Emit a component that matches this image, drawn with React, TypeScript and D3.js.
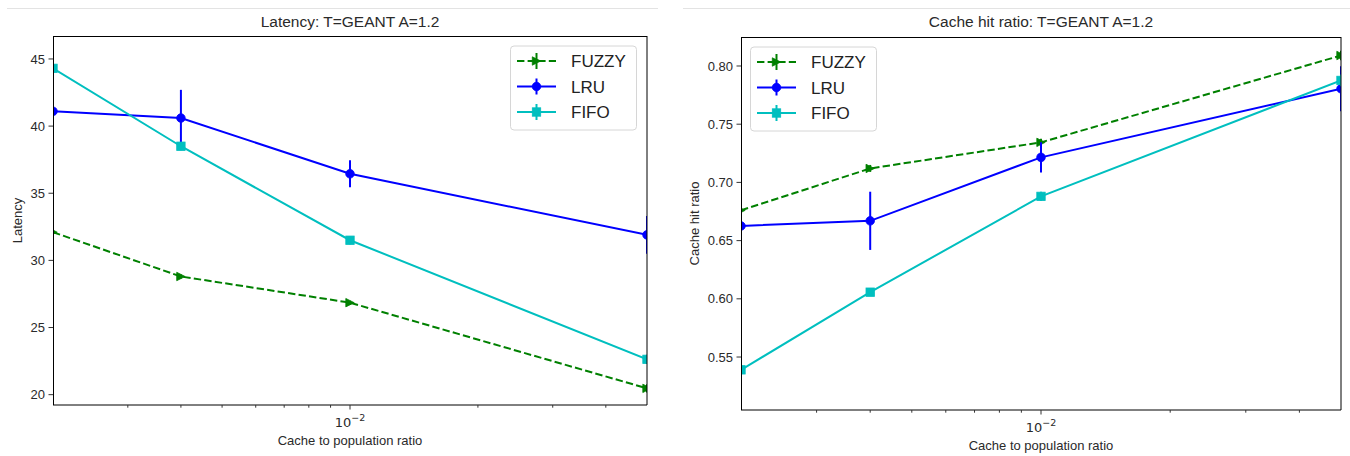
import React from 'react';
import * as d3 from 'd3';

// Cache sizes (fraction of content population) shared by both panels
const cacheRatios = [0.002, 0.004, 0.01, 0.05];
const xMinorTicks = [0.003, 0.004, 0.005, 0.006, 0.007, 0.008, 0.009, 0.02, 0.03, 0.04];
const xMajorTicks = [0.01];

const strategyNames = ['FUZZY', 'LRU', 'FIFO'];
const strategyColors = ['#008000', '#0000ff', '#00bfbf'];
const strategyMarkers = ['triangle', 'circle', 'square'];
const strategyDashes = ['7.4,3.2', null, null];

// Mean latency per strategy and its confidence half-width
const latencyFuzzy = [32.1, 28.8, 26.85, 20.47];
const latencyFuzzyErr = [0.15, 0.15, 0.15, 0.3];
const latencyLru = [41.1, 40.6, 36.45, 31.9];
const latencyLruErr = [1.0, 2.1, 1.0, 1.4];
const latencyFifo = [44.3, 38.5, 31.5, 22.63];
const latencyFifoErr = [1.1, 0.3, 0.3, 0.35];
const latencyTicks = [20, 25, 30, 35, 40, 45];

// Mean cache hit ratio per strategy and its confidence half-width
const hitFuzzy = [0.676, 0.712, 0.7344, 0.809];
const hitFuzzyErr = [0.003, 0.003, 0.003, 0.004];
const hitLru = [0.6626, 0.667, 0.7215, 0.7805];
const hitLruErr = [0.014, 0.025, 0.013, 0.0193];
const hitFifo = [0.539, 0.6057, 0.688, 0.7876];
const hitFifoErr = [0.019, 0.003, 0.004, 0.005];
const hitTicks = [0.55, 0.6, 0.65, 0.7, 0.75, 0.8];

const FONT = "'Liberation Sans', Arial, Helvetica, sans-serif";
const TEXT = '#2a2a2a';

type Series = { name: string; color: string; marker: string; dash: string | null; values: number[]; errs: number[] };

function buildSeries(values: number[][], errs: number[][]): Series[] {
  return strategyNames.map((name, i) => ({
    name,
    color: strategyColors[i],
    marker: strategyMarkers[i],
    dash: strategyDashes[i],
    values: values[i],
    errs: errs[i],
  }));
}

const latencySeries = buildSeries([latencyFuzzy, latencyLru, latencyFifo], [latencyFuzzyErr, latencyLruErr, latencyFifoErr]);
const hitSeries = buildSeries([hitFuzzy, hitLru, hitFifo], [hitFuzzyErr, hitLruErr, hitFifoErr]);

function Marker({ kind, x, y, color }: { kind: string; x: number; y: number; color: string }) {
  if (kind === 'circle') return <circle cx={x} cy={y} r={4.3} fill={color} stroke={color} strokeWidth={0.8} />;
  if (kind === 'square') return <rect x={x - 4.2} y={y - 4.2} width={8.4} height={8.4} fill={color} stroke={color} strokeWidth={0.8} />;
  const s = 4.2;
  return <path d={`M${x + s},${y} L${x - s},${y - s} L${x - s},${y + s} Z`} fill={color} stroke={color} strokeWidth={0.8} />;
}

type PanelProps = {
  id: string;
  left: number; right: number; top: number; bottom: number;
  yDomain: [number, number];
  yTicks: number[];
  yFormat: (v: number) => string;
  title: string;
  ylabel: string;
  ylabelX: number;
  series: Series[];
  legendX: number; legendY: number;
};

function Panel(p: PanelProps) {
  const x = d3.scaleLog().domain([cacheRatios[0], cacheRatios[cacheRatios.length - 1]]).range([p.left, p.right]);
  const y = d3.scaleLinear().domain(p.yDomain).range([p.bottom, p.top]);
  const line = d3.line<number>().x((_, i) => x(cacheRatios[i])).y((v) => y(v));
  const cx = (p.left + p.right) / 2;
  const cy = (p.top + p.bottom) / 2;
  const clipId = `clip-${p.id}`;
  const legendW = 126;
  const legendH = 84;
  const rowH = 25.5;

  return (
    <g>
      <defs>
        <clipPath id={clipId}>
          <rect x={p.left} y={p.top} width={p.right - p.left} height={p.bottom - p.top} />
        </clipPath>
      </defs>
      <text x={cx} y={27} textAnchor="middle" fontFamily={FONT} fontSize={15.5} fill={TEXT}>{p.title}</text>

      <g clipPath={`url(#${clipId})`}>
        {p.series.map((s) => (
          <g key={s.name}>
            <path d={line(s.values) || ''} fill="none" stroke={s.color} strokeWidth={2} strokeDasharray={s.dash || undefined} />
            {s.values.map((v, i) => (
              <line key={i} x1={x(cacheRatios[i])} x2={x(cacheRatios[i])} y1={y(v - s.errs[i])} y2={y(v + s.errs[i])} stroke={s.color} strokeWidth={2} />
            ))}
            {s.values.map((v, i) => (
              <Marker key={i} kind={s.marker} x={x(cacheRatios[i])} y={y(v)} color={s.color} />
            ))}
          </g>
        ))}
      </g>

      {/* spines */}
      <line x1={p.left} x2={p.right} y1={p.top + 0.5} y2={p.top + 0.5} stroke="#000" strokeWidth={1} />
      <line x1={p.left + 0.5} x2={p.left + 0.5} y1={p.top} y2={p.bottom} stroke="#000" strokeWidth={1} />
      <line x1={p.left} x2={p.right} y1={p.bottom} y2={p.bottom} stroke="#000" strokeWidth={1} />
      <line x1={p.right} x2={p.right} y1={p.top} y2={p.bottom} stroke="#000" strokeWidth={1} />

      {/* y axis */}
      {p.yTicks.map((t) => (
        <g key={t}>
          <line x1={p.left - 4.5} x2={p.left} y1={y(t)} y2={y(t)} stroke="#333" strokeWidth={1} />
          <text x={p.left - 8} y={y(t)} dy="0.35em" textAnchor="end" fontFamily={FONT} fontSize={13} fill={TEXT}>{p.yFormat(t)}</text>
        </g>
      ))}
      <text transform={`translate(${p.ylabelX},${cy}) rotate(-90)`} textAnchor="middle" fontFamily={FONT} fontSize={13} fill={TEXT}>{p.ylabel}</text>

      {/* x axis (log) */}
      {xMinorTicks.map((t) => (
        <line key={t} x1={x(t)} x2={x(t)} y1={p.bottom} y2={p.bottom + 2.7} stroke="#333" strokeWidth={1} />
      ))}
      {xMajorTicks.map((t) => (
        <g key={t}>
          <line x1={x(t)} x2={x(t)} y1={p.bottom} y2={p.bottom + 4.5} stroke="#333" strokeWidth={1} />
          <text x={x(t)} y={p.bottom + 21.5} textAnchor="middle" fontFamily="'DejaVu Sans', sans-serif" fontSize={13} fill={TEXT}>
            10<tspan dy={-6} fontSize={9.5}>{'\u22122'}</tspan>
          </text>
        </g>
      ))}
      <text x={cx} y={p.bottom + 40} textAnchor="middle" fontFamily={FONT} fontSize={13} fill={TEXT}>Cache to population ratio</text>

      {/* legend */}
      <g>
        <rect x={p.legendX} y={p.legendY} width={legendW} height={legendH} rx={3.5} fill="#fff" fillOpacity={0.8} stroke="#d6d6d6" strokeWidth={1} />
        {p.series.map((s, i) => {
          const ry = p.legendY + 15 + i * rowH;
          const lx1 = p.legendX + 6.5;
          const lx2 = p.legendX + 45.5;
          const mx = (lx1 + lx2) / 2;
          return (
            <g key={s.name}>
              <line x1={lx1} x2={lx2} y1={ry} y2={ry} stroke={s.color} strokeWidth={2} strokeDasharray={s.dash || undefined} />
              <line x1={mx} x2={mx} y1={ry - 8} y2={ry + 8} stroke={s.color} strokeWidth={2} />
              <Marker kind={s.marker} x={mx} y={ry} color={s.color} />
              <text x={p.legendX + 60.5} y={ry} dy="0.36em" fontFamily={FONT} fontSize={17} fill="#222">{s.name}</text>
            </g>
          );
        })}
      </g>
    </g>
  );
}

export default function App() {
  return (
    <div style={{ position: 'absolute', left: 0, top: 0 }}>
      <svg width={1350} height={456} style={{ display: 'block', background: '#fff' }}>
        <line x1={7} x2={658} y1={8.5} y2={8.5} stroke="#e3e3e3" strokeWidth={1} />
        <line x1={683} x2={1350} y1={8.5} y2={8.5} stroke="#e3e3e3" strokeWidth={1} />
        <Panel
          id="latency"
          left={53} right={647} top={36} bottom={405}
          yDomain={[19.23, 46.71]}
          yTicks={latencyTicks}
          yFormat={(v) => d3.format('d')(v)}
          title="Latency: T=GEANT A=1.2"
          ylabel="Latency"
          ylabelX={22}
          series={latencySeries}
          legendX={510.5} legendY={46}
        />
        <Panel
          id="hit"
          left={741} right={1341} top={37} bottom={410}
          yDomain={[0.5045, 0.8249]}
          yTicks={hitTicks}
          yFormat={(v) => d3.format('.2f')(v)}
          title="Cache hit ratio: T=GEANT A=1.2"
          ylabel="Cache hit ratio"
          ylabelX={698.5}
          series={hitSeries}
          legendX={750.5} legendY={47}
        />
      </svg>
    </div>
  );
}
